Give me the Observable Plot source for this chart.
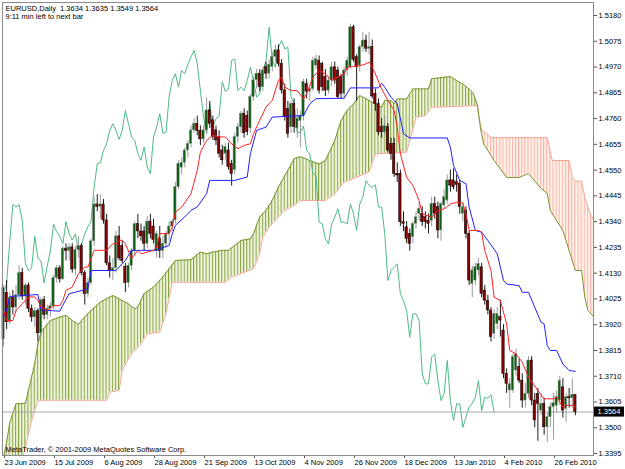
<!DOCTYPE html>
<html>
<head>
<meta charset="utf-8">
<script src="https://cdn.jsdelivr.net/npm/d3@7"></script>
<script src="https://cdn.jsdelivr.net/npm/@observablehq/plot@0.6"></script>
<style>
  html, body { margin: 0; padding: 0; background: #ffffff; }
  #chart svg { display: block; }
</style>
</head>
<body>
<div id="chart"></div>
<script>
// ---------- DATA ----------
const opens = [1.3860,1.4050,1.3930,1.4030,1.3990,1.4040,1.4130,1.4035,1.4080,1.3985,1.3950,1.3975,1.3885,1.4020,1.3960,1.3985,1.3995,1.4110,1.4150,1.4105,
1.4230,1.4220,1.4235,1.4145,1.4225,1.4240,1.4130,1.4045,1.4090,1.4260,1.4410,1.4400,1.4410,1.4345,1.4170,1.4140,1.4150,1.4280,1.4240,1.4155,
1.4090,1.4160,1.4220,1.4330,1.4300,1.4300,1.4250,1.4340,1.4320,1.4220,1.4270,1.4220,1.4250,1.4290,1.4320,1.4345,1.4481,1.4560,1.4580,1.4630,
1.4657,1.4712,1.4739,1.4710,1.4675,1.4712,1.4793,1.4753,1.4712,1.4685,1.4630,1.4617,1.4630,1.4576,1.4550,1.4685,1.4725,1.4780,1.4770,1.4720,
1.4848,1.4916,1.4943,1.4888,1.4970,1.4943,1.4970,1.5011,1.5038,1.4983,1.4875,1.4800,1.4725,1.4820,1.4720,1.4750,1.4770,1.4900,1.4870,1.4880,
1.4976,1.4996,1.4983,1.4929,1.4874,1.4915,1.4969,1.4956,1.4929,1.4861,1.4956,1.4969,1.5132,1.5010,1.4976,1.5051,1.5078,1.5044,1.5051,1.4861,
1.4820,1.4725,1.4704,1.4725,1.4657,1.4657,1.4535,1.4535,1.4338,1.4317,1.4290,1.4277,1.4331,1.4372,1.4372,1.4358,1.4344,1.4344,1.4412,1.4399,
1.4304,1.4406,1.4426,1.4508,1.4508,1.4501,1.4494,1.4372,1.4385,1.4290,1.4086,1.4100,1.4141,1.4154,1.4059,1.4018,1.3978,1.3883,1.3923,1.3951,
1.3896,1.3720,1.3652,1.3652,1.3733,1.3747,1.3692,1.3611,1.3638,1.3774,1.3611,1.3638,1.3570,1.3597,1.3502,1.3543,1.3584,1.3590,1.3611,1.3665,
1.3577,1.3625,1.3620,1.3634];
const highs = [1.4080,1.4100,1.4050,1.4060,1.4080,1.4160,1.4150,1.4090,1.4090,1.4000,1.3990,1.3985,1.4030,1.4035,1.4000,1.4010,1.4120,1.4160,1.4160,1.4240,
1.4250,1.4250,1.4250,1.4240,1.4280,1.4250,1.4140,1.4110,1.4270,1.4440,1.4450,1.4450,1.4430,1.4370,1.4200,1.4190,1.4300,1.4320,1.4260,1.4170,
1.4170,1.4230,1.4340,1.4370,1.4330,1.4320,1.4360,1.4370,1.4350,1.4300,1.4320,1.4280,1.4300,1.4340,1.4350,1.4500,1.4590,1.4600,1.4640,1.4670,
1.4730,1.4760,1.4770,1.4730,1.4730,1.4845,1.4830,1.4770,1.4730,1.4710,1.4650,1.4660,1.4660,1.4590,1.4700,1.4740,1.4790,1.4800,1.4790,1.4860,
1.4930,1.4960,1.4960,1.4970,1.4990,1.5000,1.5030,1.5060,1.5060,1.5000,1.4900,1.4830,1.4830,1.4840,1.4800,1.4790,1.4920,1.4920,1.4890,1.5010,
1.5020,1.5015,1.4990,1.4960,1.4930,1.4990,1.4990,1.4970,1.4940,1.4970,1.5010,1.5145,1.5140,1.5020,1.5060,1.5110,1.5100,1.5110,1.5080,1.4880,
1.4840,1.4760,1.4770,1.4740,1.4680,1.4680,1.4580,1.4550,1.4380,1.4340,1.4310,1.4340,1.4380,1.4420,1.4400,1.4380,1.4370,1.4440,1.4440,1.4420,
1.4420,1.4470,1.4530,1.4550,1.4555,1.4530,1.4510,1.4420,1.4400,1.4300,1.4160,1.4170,1.4190,1.4170,1.4080,1.4040,1.3990,1.3980,1.3990,1.4020,
1.3920,1.3740,1.3700,1.3800,1.3820,1.3780,1.3720,1.3680,1.3790,1.3790,1.3640,1.3660,1.3640,1.3620,1.3560,1.3600,1.3640,1.3650,1.3710,1.3700,
1.3640,1.3660,1.3700,1.3635];
const lows = [1.3830,1.3900,1.3920,1.3960,1.3970,1.4020,1.4020,1.4000,1.3970,1.3930,1.3910,1.3850,1.3870,1.3940,1.3940,1.3950,1.3980,1.4090,1.4090,1.4100,
1.4180,1.4180,1.4130,1.4120,1.4190,1.4120,1.4000,1.4030,1.4080,1.4240,1.4380,1.4350,1.4330,1.4160,1.4110,1.4100,1.4130,1.4180,1.4170,1.4050,
1.4070,1.4140,1.4200,1.4270,1.4260,1.4220,1.4230,1.4270,1.4250,1.4190,1.4190,1.4190,1.4230,1.4260,1.4300,1.4330,1.4470,1.4530,1.4560,1.4600,
1.4640,1.4700,1.4690,1.4650,1.4660,1.4700,1.4720,1.4670,1.4650,1.4600,1.4570,1.4590,1.4550,1.4485,1.4530,1.4660,1.4700,1.4680,1.4690,1.4700,
1.4830,1.4880,1.4870,1.4870,1.4920,1.4920,1.4950,1.4990,1.4970,1.4860,1.4750,1.4680,1.4700,1.4700,1.4680,1.4640,1.4750,1.4840,1.4830,1.4870,
1.4960,1.4860,1.4870,1.4850,1.4860,1.4890,1.4900,1.4840,1.4840,1.4840,1.4930,1.4960,1.4990,1.4830,1.4950,1.5030,1.5030,1.5020,1.4840,1.4790,
1.4690,1.4680,1.4690,1.4620,1.4590,1.4520,1.4500,1.4320,1.4300,1.4250,1.4220,1.4250,1.4310,1.4340,1.4320,1.4310,1.4290,1.4320,1.4350,1.4270,
1.4260,1.4390,1.4410,1.4460,1.4470,1.4460,1.4370,1.4340,1.4270,1.4080,1.4030,1.4080,1.4120,1.4030,1.4000,1.3960,1.3850,1.3860,1.3900,1.3870,
1.3700,1.3640,1.3580,1.3640,1.3710,1.3680,1.3580,1.3580,1.3620,1.3590,1.3500,1.3445,1.3550,1.3470,1.3440,1.3500,1.3450,1.3560,1.3590,1.3540,
1.3520,1.3580,1.3580,1.3549];
const closes = [1.4070,1.3930,1.4030,1.3990,1.4040,1.4130,1.4035,1.4080,1.3985,1.3950,1.3975,1.3885,1.4020,1.3960,1.3985,1.3995,1.4110,1.4150,1.4105,1.4230,
1.4220,1.4235,1.4145,1.4225,1.4240,1.4130,1.4045,1.4090,1.4260,1.4410,1.4400,1.4410,1.4345,1.4170,1.4140,1.4150,1.4280,1.4190,1.4180,1.4090,
1.4160,1.4220,1.4330,1.4300,1.4280,1.4250,1.4340,1.4290,1.4265,1.4290,1.4220,1.4250,1.4290,1.4320,1.4340,1.4481,1.4576,1.4580,1.4630,1.4657,
1.4712,1.4739,1.4710,1.4675,1.4712,1.4793,1.4739,1.4685,1.4671,1.4617,1.4590,1.4644,1.4562,1.4535,1.4685,1.4725,1.4780,1.4700,1.4705,1.4848,
1.4916,1.4943,1.4888,1.4956,1.4943,1.4980,1.5011,1.5038,1.4983,1.4875,1.4766,1.4698,1.4820,1.4725,1.4760,1.4770,1.4910,1.4870,1.4880,1.4996,
1.5003,1.4874,1.4888,1.4874,1.4915,1.4969,1.4915,1.4847,1.4861,1.4956,1.4996,1.5132,1.5000,1.4969,1.5051,1.5078,1.5044,1.5051,1.4850,1.4820,
1.4704,1.4704,1.4730,1.4630,1.4616,1.4535,1.4528,1.4338,1.4331,1.4270,1.4249,1.4331,1.4358,1.4392,1.4338,1.4338,1.4331,1.4412,1.4372,1.4304,
1.4412,1.4440,1.4508,1.4487,1.4480,1.4490,1.4400,1.4399,1.4290,1.4100,1.4141,1.4154,1.4168,1.4046,1.4018,1.3978,1.3869,1.3964,1.3964,1.3937,
1.3720,1.3679,1.3679,1.3788,1.3801,1.3692,1.3611,1.3638,1.3774,1.3611,1.3530,1.3597,1.3597,1.3502,1.3543,1.3584,1.3600,1.3625,1.3692,1.3570,
1.3625,1.3620,1.3634,1.3564];

// Ichimoku lines: [bar, price]
const tenkanSen = [[0,1.3978],[1,1.3937],[3,1.3937],[4,1.3978],[6,1.4005],[8,1.4033],[10,1.4033],[11,1.4019],[12,1.3992],[14,1.3978],[16,1.3998],[18,1.3998],[19,1.4019],[20,1.4060],[22,1.4073],[24,1.4128],[26,1.4155],[27,1.4155],[29,1.4223],[33,1.4223],[35,1.4250],[36,1.4250],[37,1.4264],[38,1.4264],[39,1.4250],[41,1.4189],[43,1.4223],[44,1.4209],[46,1.4216],[48,1.4223],[49,1.4236],[50,1.4291],[53,1.4291],[54,1.4318],[55,1.4379],[57,1.4399],[60,1.4454],[62,1.4549],[63,1.4623],[65,1.4671],[67,1.4691],[69,1.4685],[71,1.4685],[73,1.4657],[75,1.4637],[77,1.4651],[79,1.4657],[80,1.4698],[82,1.4753],[84,1.4807],[86,1.4834],[88,1.4916],[89,1.4929],[90,1.4888],[92,1.4874],[94,1.4874],[96,1.4840],[97,1.4861],[99,1.4929],[101,1.4956],[103,1.4942],[105,1.4915],[107,1.4929],[109,1.4942],[110,1.4969],[112,1.4972],[114,1.4975],[116,1.4983],[117,1.4990],[118,1.4969],[119,1.4942],[121,1.4881],[123,1.4834],[125,1.4793],[126,1.4725],[127,1.4616],[129,1.4521],[131,1.4487],[133,1.4426],[134,1.4372],[137,1.4358],[139,1.4385],[141,1.4392],[143,1.4412],[145,1.4419],[147,1.4415],[148,1.4372],[149,1.4304],[152,1.4304],[153,1.4297],[154,1.4222],[156,1.4141],[157,1.4032],[159,1.4018],[161,1.3923],[162,1.3815],[164,1.3801],[166,1.3767],[168,1.3706],[171,1.3652],[173,1.3618],[176,1.3618],[177,1.3625],[179,1.3584],[180,1.3591],[182,1.3591],[183,1.3584]];
const kijunSen = [[0,1.3950],[1,1.3980],[2,1.4035],[11,1.4043],[12,1.3980],[18,1.3975],[19,1.4000],[21,1.4046],[27,1.4066],[28,1.4141],[36,1.4141],[37,1.4155],[39,1.4182],[41,1.4223],[49,1.4223],[50,1.4230],[53,1.4243],[54,1.4290],[55,1.4325],[58,1.4359],[60,1.4386],[62,1.4400],[65,1.4454],[66,1.4508],[74,1.4508],[78,1.4522],[79,1.4617],[81,1.4712],[84,1.4725],[86,1.4766],[96,1.4772],[98,1.4820],[100,1.4841],[109,1.4843],[111,1.4885],[120,1.4885],[121,1.4904],[122,1.4888],[124,1.4847],[126,1.4820],[128,1.4698],[130,1.4681],[142,1.4681],[143,1.4643],[144,1.4569],[146,1.4508],[148,1.4494],[149,1.4400],[151,1.4304],[153,1.4297],[155,1.4263],[158,1.4209],[160,1.4100],[161,1.4086],[165,1.4079],[166,1.4052],[168,1.4052],[170,1.3991],[172,1.3930],[173,1.3923],[174,1.3835],[175,1.3815],[177,1.3815],[179,1.3760],[181,1.3733],[183,1.3730]];
const senkouA = [[0,1.3380],[1,1.3440],[2,1.3520],[4,1.3598],[7,1.3600],[10,1.3761],[11,1.3842],[12,1.3890],[15,1.3937],[18,1.3951],[20,1.3958],[22,1.3937],[24,1.3921],[25,1.3937],[28,1.3978],[31,1.4012],[33,1.4026],[35,1.4039],[37,1.4026],[40,1.4005],[42,1.3985],[43,1.3992],[45,1.4046],[48,1.4073],[51,1.4114],[55,1.4182],[60,1.4185],[63,1.4216],[65,1.4209],[67,1.4216],[70,1.4223],[72,1.4223],[76,1.4263],[79,1.4270],[80,1.4291],[82,1.4359],[84,1.4386],[86,1.4427],[88,1.4481],[91,1.4549],[93,1.4596],[95,1.4605],[98,1.4589],[101,1.4575],[103,1.4589],[106,1.4670],[108,1.4752],[110,1.4793],[112,1.4820],[114,1.4854],[115,1.4847],[117,1.4834],[121,1.4806],[122,1.4834],[124,1.4834],[125,1.4820],[126,1.4840],[129,1.4840],[131,1.4881],[136,1.4881],[137,1.4922],[143,1.4931],[145,1.4915],[147,1.4901],[149,1.4880],[150.4,1.4862],[151.7,1.4813],[152.6,1.4724],[153.6,1.4658],[157,1.4589],[161,1.4520],[165,1.4520],[168,1.4536],[172,1.4475],[174,1.4455],[175,1.4385],[179,1.4304],[181,1.4222],[183,1.4141],[185,1.4141],[186,1.4032],[187,1.3978],[189,1.3950]];
const senkouB = [[6,1.3370],[7,1.3420],[9,1.3530],[11,1.3612],[33,1.3612],[34,1.3645],[37,1.3652],[38,1.3734],[40,1.3781],[41,1.3802],[44,1.3842],[46,1.3883],[50,1.3890],[52,1.3965],[54,1.4093],[71,1.4093],[73,1.4114],[80,1.4148],[82,1.4209],[83,1.4277],[85,1.4318],[88,1.4359],[90,1.4386],[93,1.4406],[95,1.4426],[103,1.4426],[106,1.4453],[109,1.4501],[113,1.4521],[117,1.4542],[119,1.4616],[129,1.4623],[130,1.4670],[132,1.4766],[135,1.4772],[137,1.4806],[151.7,1.4813],[152,1.4775],[153,1.4715],[156,1.4682],[174,1.4682],[175.6,1.4589],[181,1.4589],[182,1.4520],[183,1.4505],[185,1.4505],[186,1.4440],[187,1.4400],[188,1.4365],[189,1.4345]];
const kumoCross = 151.7;     // bar where span A falls below span B
const chikouShift = 26;
const lastPrice = 1.3564;

const priceTicks = [1.5180,1.5075,1.4970,1.4865,1.4760,1.4655,1.4550,1.4445,1.4340,1.4235,1.4130,1.4025,1.3920,1.3815,1.3710,1.3605,1.3500,1.3395];
const dateTickBars = [0,16,32,48,64,80,96,112,128,144,160,176];
const dateTickLabels = ["23 Jun 2009","15 Jul 2009","6 Aug 2009","28 Aug 2009","21 Sep 2009","13 Oct 2009","4 Nov 2009","26 Nov 2009","18 Dec 2009","13 Jan 2010","4 Feb 2010","26 Feb 2010"];

const titleLine1 = "EURUSD,Daily\u00a0\u00a01.3634 1.3635 1.3549 1.3564";
const titleLine2 = "9:11 min left to next bar";
const caption = "MetaTrader, \u00a9 2001-2009 MetaQuotes Software Corp.";

// ---------- TABLES ----------
const candles = closes.map((c, i) => ({i, o: opens[i], h: highs[i], l: lows[i], c, up: c >= opens[i]}));
const pts = arr => arr.map(([bar, v]) => ({bar, v}));
const A = pts(senkouA), B = pts(senkouB);
const chikou = closes.slice(chikouShift).map((v, k) => ({bar: k, v}));
const yDomain = [1.3387, 1.5233];
const bottom = () => yDomain[0];

const bullWick = "#8e8e8e", bearWick = "#000000";
const bullBody = "#0b5e12", bearBody = "#8b0000";
const font = "Liberation Sans, Arial, Helvetica, sans-serif";

const plot = Plot.plot({
  width: 625, height: 469,
  marginLeft: 2, marginRight: 32, marginTop: 2, marginBottom: 14,
  x: {domain: [-0.32, 188.8]},
  y: {domain: yDomain},
  style: {fontFamily: font, fontSize: "7.5px", background: "#ffffff", color: "#000"},
  marks: [
    // kumo: bullish part (span A above span B)
    Plot.areaY(A.filter(d => d.bar <= kumoCross), {x: "bar", y1: bottom, y2: "v", fill: "url(#hatchUp)", clip: true}),
    Plot.areaY(B.filter(d => d.bar <= kumoCross), {x: "bar", y1: bottom, y2: "v", fill: "#ffffff", clip: true}),
    // bearish part (span B above span A)
    Plot.areaY(B.filter(d => d.bar >= kumoCross), {x: "bar", y1: bottom, y2: "v", fill: "url(#hatchDn)", clip: true}),
    Plot.areaY(A.filter(d => d.bar >= kumoCross), {x: "bar", y1: bottom, y2: "v", fill: "#ffffff", clip: true}),
    Plot.line(B, {x: "bar", y: "v", stroke: "#f2a596", strokeWidth: 1, clip: true}),
    Plot.line(A, {x: "bar", y: "v", stroke: "#7a9630", strokeWidth: 1, clip: true}),
    // chikou span
    Plot.line(chikou, {x: "bar", y: "v", stroke: "#4dba85", strokeWidth: 1, clip: true}),
    // last price line
    Plot.ruleY([lastPrice], {stroke: "#a8a8a8", strokeWidth: 1}),
    // candles
    Plot.ruleX(candles, {x: "i", y1: "l", y2: "h", stroke: d => d.up ? bullWick : bearWick, strokeWidth: 0.9}),
    Plot.rect(candles, {x1: d => d.i - 0.38, x2: d => d.i + 0.38, y1: "o", y2: "c",
      fill: d => d.up ? bullBody : bearBody, stroke: d => d.up ? bullWick : bearWick, strokeWidth: 0.5}),
    // tenkan / kijun
    Plot.line(pts(kijunSen), {x: "bar", y: "v", stroke: "#1f1fff", strokeWidth: 1}),
    Plot.line(pts(tenkanSen), {x: "bar", y: "v", stroke: "#ff2020", strokeWidth: 1}),
    // texts
    Plot.text([titleLine1], {frameAnchor: "top-left", dx: 3, dy: 3, lineAnchor: "top", textAnchor: "start", fontSize: 7.5}),
    Plot.text([titleLine2], {frameAnchor: "top-left", dx: 3, dy: 11, lineAnchor: "top", textAnchor: "start", fontSize: 7.5}),
    Plot.text([caption], {frameAnchor: "bottom-left", dx: 3, dy: -4, lineAnchor: "bottom", textAnchor: "start", fontSize: 7.5}),
    // axes
    Plot.axisY(priceTicks, {anchor: "right", tickSize: 3, tickPadding: 2, tickFormat: d => d.toFixed(4), label: null, fontSize: 7.5, stroke: "#555"}),
    Plot.axisX(dateTickBars, {anchor: "bottom", tickSize: 3, tickPadding: 1, tickFormat: d => dateTickLabels[dateTickBars.indexOf(d)], textAnchor: "start", dx: 1, label: null, fontSize: 7.5, stroke: "#555"}),
    Plot.frame({stroke: "#8a8a8a"})
  ]
});

document.getElementById("chart").appendChild(plot);

// hatch patterns aligned on bar positions + last-price box (via Plot scales)
const svg = d3.select(plot.tagName.toLowerCase() === "svg" ? plot : plot.querySelector("svg"));
const xs = plot.scale("x"), ys = plot.scale("y");
const step = xs.apply(1) - xs.apply(0);
const x0 = xs.apply(0);
const defs = svg.insert("defs", ":first-child");
function hatch(id, line, bg) {
  const p = defs.append("pattern").attr("id", id).attr("patternUnits", "userSpaceOnUse")
    .attr("width", step).attr("height", 10).attr("patternTransform", `translate(${x0 - 0.5},0)`);
  p.append("rect").attr("width", step).attr("height", 10).attr("fill", bg);
  p.append("rect").attr("width", 1).attr("height", 10).attr("fill", line);
}
hatch("hatchUp", "#86a23e", "#eef3dc");
hatch("hatchDn", "#ffacac", "#fff3e6");

const yp = ys.apply(lastPrice);
const xr = xs.range[1];
const box = svg.append("g").attr("aria-label", "last price");
box.append("rect").attr("x", xr + 1).attr("y", yp - 5).attr("width", 30).attr("height", 10).attr("fill", "#000");
box.append("text").attr("x", xr + 16).attr("y", yp + 2.7).attr("fill", "#fff")
  .attr("text-anchor", "middle")
  .style("font-family", font).style("font-size", "7.5px").text(lastPrice.toFixed(4));
</script>
</body>
</html>
